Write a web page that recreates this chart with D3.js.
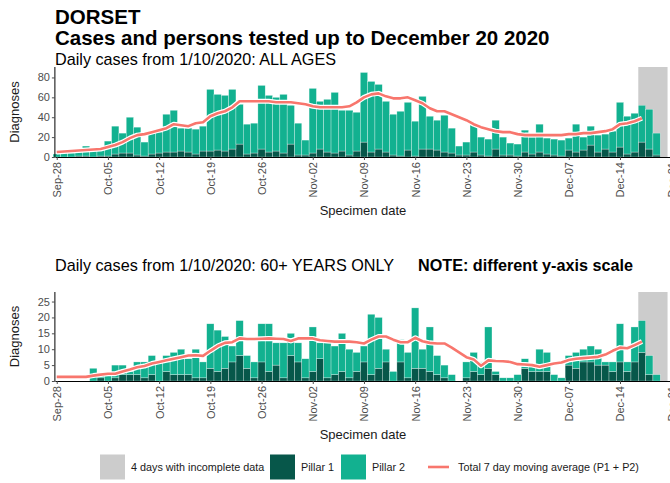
<!DOCTYPE html>
<html><head><meta charset="utf-8">
<script src="https://cdn.jsdelivr.net/npm/d3@7"></script>
<style>body{margin:0;background:#fff}svg{display:block;font-family:"Liberation Sans",Arial,sans-serif}</style>
</head><body><svg id="c" width="670" height="483"></svg>
<script>
// ---------------- DATA ----------------
const startDate = "2020-09-28", endDate = "2020-12-20";
const incompleteStart = "2020-12-17";
const tickDates = ["2020-09-28","2020-10-05","2020-10-12","2020-10-19","2020-10-26","2020-11-02","2020-11-09","2020-11-16","2020-11-23","2020-11-30","2020-12-07","2020-12-14","2020-12-21"];
// ALL AGES
const allPillar1 = [0,0,0,1,1,0,1,1,3,4,4,2,1,3,4,5,5,6,5,3,6,6,7,6,8,13,3,4,8,5,6,4,13,2,2,4,8,5,4,6,2,6,15,5,8,5,2,1,7,1,8,8,7,5,4,2,2,5,2,1,8,2,2,1,5,3,5,3,2,1,7,5,7,12,5,8,5,10,3,5,15,8,2,0];
const allTotal   = [3,5,4,6,11,7,8,16,31,24,40,30,15,24,25,43,47,29,29,28,31,68,63,62,68,53,33,34,72,62,60,63,52,34,17,69,56,58,65,47,47,45,85,76,73,56,43,46,55,36,61,41,37,42,29,11,15,34,20,18,37,20,14,13,27,20,33,19,18,17,19,33,20,31,22,23,26,55,41,44,52,48,24,0];
const allAvg     = [5,5.5,6,6.5,7,7.5,8,10,12,15,19,22,23,25,27,29,33,32,31,34,35,41,44,46,50,56,56,56,56,56,55,55,55,54,53,51,50,50,50,50,51,55,60,63,64,61,59,59,60,57,54,49,46,46,43,40,37,33,30,28,26,25,25,23,22,22,22,22,22,22,23,23,24,24,25,26,28,33,34,36,39];
// 60+ YEARS
const oldPillar1 = [0,0,0,0,0,0,1,0,1,2,2,2,1,2,0,3,2,2,2,1,1,4,3,4,6,8,4,1,6,3,5,1,8,6,1,3,7,1,2,3,1,3,6,2,4,6,0,6,1,4,4,3,2,1,0,0,1,3,2,4,2,0,0,0,4,3,3,3,0,0,5,4,6,6,5,5,3,6,3,6,9,2,0,0];
const oldTotal   = [0,0,0,0,0,4,2,2,5,5,3,6,6,8,6,8,9,10,7,10,6,18,16,14,11,19,8,6,18,18,12,12,15,12,7,17,12,12,11,15,10,9,11,21,20,10,3,13,9,23,10,17,8,5,2,0,6,9,6,17,3,1,1,2,7,5,10,9,2,1,8,9,10,11,10,6,6,18,6,17,19,8,2,0];
const oldAvg     = [1.3,1.3,1.3,1.3,1.3,1.7,2,2.3,2.3,3,3.6,4.3,4.7,5.5,6,6.5,7,7.5,8,8.1,7.9,9.5,11,12,12.2,13.4,13.2,13.2,13.3,13.4,13.3,13.2,12.6,13.4,13.4,13.4,12.8,12.6,12.4,12.4,12.4,12.2,11.8,13,14,14,13,12.2,12.2,13.6,12.5,12,11.8,11.8,10.5,9,7.5,6.8,4.8,6.5,6.3,6.2,6,5.3,5.2,5,4.5,5,5.5,5.8,6.6,7,7.2,7.4,7.6,8.3,9.5,10.5,10.3,11.3,12.4];
const allTicks = [0,20,40,60,80];
const oldTicks = [0,5,10,15,20,25];
const legendLabels = ["4 days with incomplete data","Pillar 1","Pillar 2","Total 7 day moving average (P1 + P2)"];

// ---------------- STYLE ----------------
const C = {p1:"#07574a", p2:"#12b190", line:"#f8766d", gray:"#cccccc", axis:"#4d4d4d"};
const parse = d3.utcParse("%Y-%m-%d");
const dates = d3.utcDay.range(parse(startDate), d3.utcDay.offset(parse(endDate),1));
const svg = d3.select("#c");

const x = d3.scaleUtc()
  .domain([d3.utcHour.offset(parse(startDate),-6), parse("2020-12-21")])
  .range([54.9, 671.2]);
const dayW = x(dates[1]) - x(dates[0]);

svg.append("text").attr("x",55).attr("y",24).attr("font-size",20.5).attr("font-weight","bold").text("DORSET");
svg.append("text").attr("x",55).attr("y",45).attr("font-size",20.5).attr("font-weight","bold").text("Cases and persons tested up to December 20 2020");

function panel(top, bottom, yMax, ticks, p1, total, avg, subtitleY, subtitle, note){
  const y = d3.scaleLinear().domain([0,yMax]).range([bottom, top]);
  const g = svg.append("g");
  g.append("text").attr("x",55).attr("y",subtitleY).attr("font-size",16.2).text(subtitle);
  if(note) g.append("text").attr("x",418).attr("y",subtitleY).attr("font-size",16.2).attr("font-weight","bold").text(note);
  g.append("rect").attr("x", x(parse(incompleteStart)) - dayW/2).attr("y", top)
    .attr("width", x(parse(endDate)) - x(parse(incompleteStart)) + dayW).attr("height", bottom-top).attr("fill", C.gray);
  const data = dates.map((d,i)=>({d, p1:p1[i], p2:total[i]-p1[i]}));
  const stack = d3.stack().keys(["p1","p2"])(data);
  g.selectAll("g.s").data(stack).join("g").attr("fill",(s,i)=> i===0?C.p1:C.p2)
    .selectAll("rect").data(s=>s).join("rect")
    .attr("x", d=>x(d.data.d)-dayW/2).attr("width", dayW)
    .attr("y", d=>y(d[1])).attr("height", d=>Math.max(0,y(d[0])-y(d[1])))
    .attr("stroke","#ffffff").attr("stroke-opacity",0.6).attr("stroke-width",0.5);
  const line = d3.line().x((v,i)=>x(dates[i])).y(v=>y(v));
  g.append("path").datum(avg).attr("d",line).attr("fill","none").attr("stroke","#fff").attr("stroke-width",5).attr("stroke-linejoin","round");
  g.append("path").datum(avg).attr("d",line).attr("fill","none").attr("stroke",C.line).attr("stroke-width",2.6).attr("stroke-linejoin","round");
  const ya = g.append("g").attr("transform",`translate(54.9,0)`).call(d3.axisLeft(y).tickValues(ticks).tickSize(3).tickPadding(2));
  ya.select(".domain").attr("stroke","#000").attr("d",`M0,${bottom}V${top}`);
  ya.selectAll(".tick line").attr("stroke",C.axis);
  ya.selectAll("text").attr("font-size",11).attr("fill",C.axis).attr("font-family","Liberation Sans, Arial, sans-serif");
  const xa = g.append("g").attr("transform",`translate(0,${bottom})`)
    .call(d3.axisBottom(x).tickValues(tickDates.map(parse)).tickFormat(d3.utcFormat("%b-%d")).tickSize(3).tickSizeOuter(0));
  xa.select(".domain").attr("stroke","#000");
  xa.selectAll(".tick line").attr("stroke",C.axis);
  xa.selectAll("text").attr("font-size",11).attr("fill",C.axis).attr("font-family","Liberation Sans, Arial, sans-serif")
    .attr("transform","rotate(-90)").attr("text-anchor","end").attr("dy","0.35em").attr("x",-5).attr("y",0);
  g.append("text").attr("transform",`translate(19,${(top+bottom)/2}) rotate(-90)`).attr("text-anchor","middle")
    .attr("font-size",13).attr("fill","#1a1a1a").text("Diagnoses");
  g.append("text").attr("x",363).attr("y",bottom+58).attr("text-anchor","middle").attr("font-size",13).attr("fill","#1a1a1a").text("Specimen date");
}
panel(67, 157, 90.5, allTicks, allPillar1, allTotal, allAvg, 65, "Daily cases from 1/10/2020: ALL AGES");
panel(292, 381, 28, oldTicks, oldPillar1, oldTotal, oldAvg, 271, "Daily cases from 1/10/2020: 60+ YEARS ONLY", "NOTE: different y-axis scale");

// legend
const ly = 467;
const lg = svg.append("g").attr("font-size",10.8).attr("fill","#1a1a1a");
const items = [
  {t:legendLabels[0], x:100, kind:"rect", c:C.gray},
  {t:legendLabels[1], x:270, kind:"rect", c:C.p1},
  {t:legendLabels[2], x:341, kind:"rect", c:C.p2},
  {t:legendLabels[3], x:428, kind:"line", c:C.line}];
items.forEach(it=>{
  if(it.kind==="rect") lg.append("rect").attr("x",it.x).attr("y",ly-12.5).attr("width",25).attr("height",25).attr("fill",it.c);
  else lg.append("line").attr("x1",it.x).attr("x2",it.x+21).attr("y1",ly).attr("y2",ly).attr("stroke",it.c).attr("stroke-width",2.6);
  lg.append("text").attr("x", it.x + (it.kind==="rect"?31:30)).attr("y",ly+4).text(it.t);
});
</script></body></html>
